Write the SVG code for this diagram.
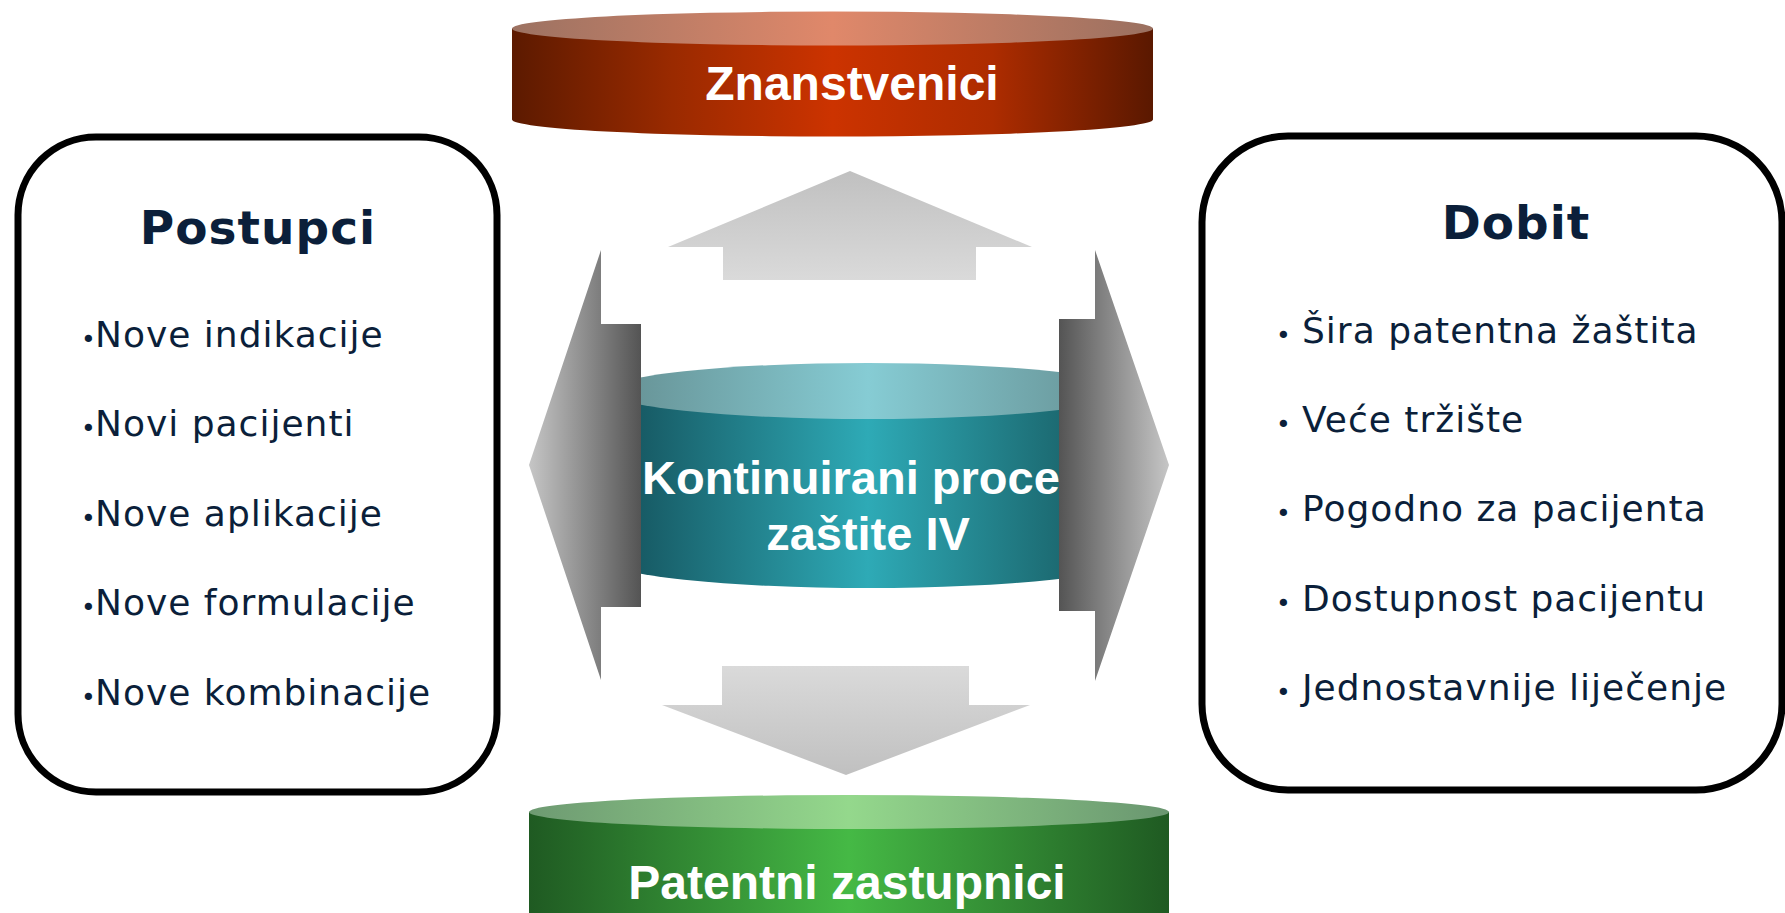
<svg xmlns="http://www.w3.org/2000/svg" width="1785" height="913" viewBox="0 0 1785 913">
<defs>
<linearGradient id="redBody" x1="0" y1="0" x2="1" y2="0">
<stop offset="0" stop-color="#5c1a00"/><stop offset="0.25" stop-color="#9a2a00"/><stop offset="0.5" stop-color="#cc3300"/><stop offset="0.75" stop-color="#ad2c00"/><stop offset="1" stop-color="#5a1800"/>
</linearGradient>
<linearGradient id="redTop" x1="0" y1="0" x2="1" y2="0">
<stop offset="0" stop-color="#9c7262"/><stop offset="0.5" stop-color="#e0886a"/><stop offset="1" stop-color="#9a7060"/>
</linearGradient>
<linearGradient id="greenBody" x1="0" y1="0" x2="1" y2="0">
<stop offset="0" stop-color="#1f5a22"/><stop offset="0.5" stop-color="#45b945"/><stop offset="1" stop-color="#1f5a22"/>
</linearGradient>
<linearGradient id="greenTop" x1="0" y1="0" x2="1" y2="0">
<stop offset="0" stop-color="#6e9a72"/><stop offset="0.5" stop-color="#94d88c"/><stop offset="1" stop-color="#6a9670"/>
</linearGradient>
<linearGradient id="tealBody" x1="0" y1="0" x2="1" y2="0">
<stop offset="0" stop-color="#14505a"/><stop offset="0.5" stop-color="#2eaab6"/><stop offset="1" stop-color="#16545a"/>
</linearGradient>
<linearGradient id="tealTop" x1="0" y1="0" x2="1" y2="0">
<stop offset="0" stop-color="#658f92"/><stop offset="0.5" stop-color="#86ccd4"/><stop offset="1" stop-color="#658f92"/>
</linearGradient>
<linearGradient id="upGrad" x1="0" y1="0" x2="0" y2="1">
<stop offset="0" stop-color="#c0c0c0"/><stop offset="1" stop-color="#dadada"/>
</linearGradient>
<linearGradient id="downGrad" x1="0" y1="0" x2="0" y2="1">
<stop offset="0" stop-color="#dadada"/><stop offset="1" stop-color="#c0c0c0"/>
</linearGradient>
<linearGradient id="leftGrad" x1="0" y1="0" x2="1" y2="0">
<stop offset="0" stop-color="#c6c6c6"/><stop offset="1" stop-color="#545454"/>
</linearGradient>
<linearGradient id="rightGrad" x1="0" y1="0" x2="1" y2="0">
<stop offset="0" stop-color="#545454"/><stop offset="1" stop-color="#c6c6c6"/>
</linearGradient>
</defs>
<style>
.cyl{font-family:"Liberation Sans",Arial,sans-serif;font-weight:bold;fill:#ffffff}
.box{fill:#ffffff;stroke:#000000;stroke-width:7}
.title{font-family:"DejaVu Sans",Verdana,sans-serif;font-weight:bold;font-size:47px;letter-spacing:1px;fill:#0b1f3a;text-anchor:middle}
.item{font-family:"DejaVu Sans",Verdana,sans-serif;font-size:36px;letter-spacing:1px;fill:#0b1f3a}
.bul{font-family:"DejaVu Sans",Verdana,sans-serif;font-size:25px;fill:#0b1f3a}
</style>
<rect width="1785" height="913" fill="#ffffff"/>

<g id="znanstvenici">
<path d="M512,28.5 L512,119.5 A320.5,17 0 0 0 1153,119.5 L1153,28.5 Z" fill="url(#redBody)"/>
<ellipse cx="832.5" cy="28.5" rx="320.5" ry="17" fill="url(#redTop)"/>
<text class="cyl" x="852" y="100" font-size="48" text-anchor="middle">Znanstvenici</text>
</g>

<g id="patentni-zastupnici">
<path d="M529,812 L529,913 L1169,913 L1169,812 Z" fill="url(#greenBody)"/>
<ellipse cx="849" cy="812" rx="320" ry="17" fill="url(#greenTop)"/>
<text class="cyl" x="847" y="899" font-size="48" text-anchor="middle">Patentni zastupnici</text>
</g>

<g id="postupci">
<rect class="box" x="18" y="137" width="479" height="655" rx="78" ry="78"/>
<text class="title" x="258" y="244">Postupci</text>
<text class="bul" x="81" y="348">•</text><text class="item" x="95" y="347">Nove indikacije</text>
<text class="bul" x="81" y="437">•</text><text class="item" x="95" y="436">Novi pacijenti</text>
<text class="bul" x="81" y="527">•</text><text class="item" x="95" y="526">Nove aplikacije</text>
<text class="bul" x="81" y="616">•</text><text class="item" x="95" y="615">Nove formulacije</text>
<text class="bul" x="81" y="706">•</text><text class="item" x="95" y="705">Nove kombinacije</text>
</g>

<g id="dobit">
<rect class="box" x="1202" y="136" width="580" height="654" rx="86" ry="86"/>
<text class="title" x="1516" y="239">Dobit</text>
<text class="bul" x="1276" y="344">•</text><text class="item" x="1302" y="343">Šira patentna žaštita</text>
<text class="bul" x="1276" y="433">•</text><text class="item" x="1302" y="432">Veće tržište</text>
<text class="bul" x="1276" y="522">•</text><text class="item" x="1302" y="521">Pogodno za pacijenta</text>
<text class="bul" x="1276" y="612">•</text><text class="item" x="1302" y="611">Dostupnost pacijentu</text>
<text class="bul" x="1276" y="701">•</text><text class="item" x="1302" y="700">Jednostavnije liječenje</text>
</g>

<g id="connectors-vertical">
<polygon points="850,171 1032,247 976,247 976,280 723,280 723,247 668,247" fill="url(#upGrad)"/>
<polygon points="722,666 969,666 969,705 1030,705 846,775 662,705 722,705" fill="url(#downGrad)"/>
</g>

<g id="kontinuirani-proces">
<path d="M608,391 L608,560 A260,28 0 0 0 1128,560 L1128,391 Z" fill="url(#tealBody)"/>
<ellipse cx="868" cy="391" rx="260" ry="28" fill="url(#tealTop)"/>
<text class="cyl" x="642" y="494" font-size="47">Kontinuirani proce</text>
<text class="cyl" x="868" y="550" font-size="47" text-anchor="middle">zaštite IV</text>
</g>

<g id="connectors">
<polygon points="529,465 601,250 601,324 641,324 641,607 601,607 601,680" fill="url(#leftGrad)"/>
<polygon points="1059,319 1095,319 1095,250 1169,465 1095,681 1095,611 1059,611" fill="url(#rightGrad)"/>
</g>
</svg>
